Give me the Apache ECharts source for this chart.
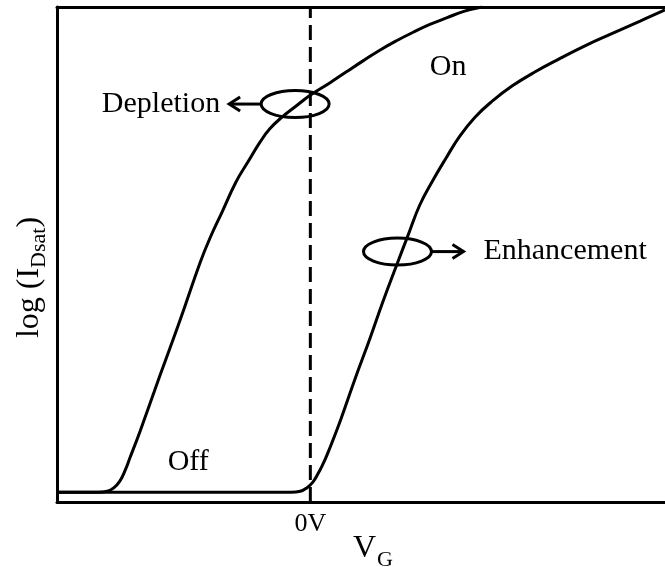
<!DOCTYPE html>
<html>
<head>
<meta charset="utf-8">
<script src="https://cdn.jsdelivr.net/npm/echarts@6/dist/echarts.min.js"></script>
<style>
  html, body { margin: 0; padding: 0; background: #fff; }
  #chart { width: 665px; height: 567px; }
</style>
</head>
<body>
<div id="chart"></div>
<script>
// Gate voltage (arbitrary units, 0V at the threshold marker) and log(I_Dsat)
const depletionVg = [-5, -4.19, -4.01, -3.88, -3.76, -3.66, -3.56, -3.36, -2.97, -2.57, -2.18, -1.98, -1.74, -1.47, -1.23, -0.99, -0.80, -0.56, -0.28, 0.01, 0.39, 0.72, 1.04, 1.37, 1.71, 2.03, 2.36, 2.70, 3.03, 3.39];
const depletionLogI = [0, 0, 0.02, 0.09, 0.23, 0.44, 0.71, 1.26, 2.40, 3.55, 4.72, 5.24, 5.78, 6.39, 6.81, 7.22, 7.49, 7.73, 7.96, 8.19, 8.44, 8.67, 8.89, 9.11, 9.31, 9.48, 9.64, 9.78, 9.91, 10.0];

const enhancementVg = [-5, -0.38, -0.20, -0.07, 0.05, 0.15, 0.23, 0.33, 0.59, 0.88, 1.18, 1.43, 1.71, 1.93, 2.16, 2.42, 2.68, 2.95, 3.25, 3.59, 3.98, 4.43, 4.93, 5.42, 5.95, 6.51, 7.0];
const enhancementLogI = [0, 0, 0.02, 0.09, 0.21, 0.38, 0.54, 0.77, 1.47, 2.33, 3.18, 3.92, 4.70, 5.30, 5.92, 6.43, 6.89, 7.34, 7.73, 8.06, 8.37, 8.66, 8.94, 9.20, 9.45, 9.71, 9.94];

// Callouts: ellipse centre (Vg, logI), arrow direction (-1 left, +1 right), text
const calloutNames = ['Depletion', 'Enhancement'];
const calloutVg = [-0.30, 1.72];
const calloutLogI = [8.0, 4.96];
const calloutDir = [-1, 1];

// Region labels
const regionNames = ['On', 'Off'];
const regionVg = [2.72, -2.41];
const regionLogI = [8.76, 0.62];

const xTickLabel = '0V';
const thresholdVg = 0;
const vgRange = [-5, 7];
const logIRange = [-0.2, 10];

const SERIF = '"Liberation Serif", "Times New Roman", serif';

const zip = (xs, ys) => xs.map((x, i) => [x, ys[i]]);

const chart = echarts.init(document.getElementById('chart'), null, { renderer: 'canvas' });

const curveStyle = { color: '#000', width: 3 };

const option = {
  backgroundColor: '#fff',
  animation: false,
  grid: {
    left: 57, right: 0, top: 7, bottom: 65,
    outerBoundsMode: 'none',
    containLabel: false,
    show: false
  },
  xAxis: [
    {
      type: 'value', min: vgRange[0], max: vgRange[1], interval: 1,
      axisLine: { show: true, onZero: false, lineStyle: { color: '#000', width: 3 } },
      axisTick: { show: false },
      splitLine: { show: false },
      axisLabel: {
        margin: 9, color: '#000', fontFamily: SERIF, fontSize: 26,
        formatter: v => (v === thresholdVg ? xTickLabel : '')
      },
      name: '{v|V}{s|G}',
      nameLocation: 'middle',
      nameGap: 31,
      nameMoveOverlap: false,
      nameTextStyle: {
        padding: [0, 0, 0, 24],
        rich: {
          v: { fontFamily: SERIF, fontSize: 32, color: '#000', verticalAlign: 'top', lineHeight: 32 },
          s: { fontFamily: SERIF, fontSize: 22, color: '#000', verticalAlign: 'top', padding: [16, 0, 0, 1], lineHeight: 22 }
        }
      }
    },
    {
      // top frame line
      type: 'value', position: 'top', min: vgRange[0], max: vgRange[1],
      axisLine: { show: true, onZero: false, lineStyle: { color: '#000', width: 3 } },
      axisTick: { show: false },
      axisLabel: { show: false },
      splitLine: { show: false }
    }
  ],
  yAxis: {
    type: 'value', min: logIRange[0], max: logIRange[1],
    axisLine: { show: true, onZero: false, lineStyle: { color: '#000', width: 3 } },
    axisTick: { show: false },
    splitLine: { show: false },
    axisLabel: { show: false },
    name: '{a|log (I}{s|Dsat}{a|)}',
    nameLocation: 'middle',
    nameGap: 11,
    nameRotate: 90,
    nameMoveOverlap: false,
    nameTextStyle: {
      padding: [0, 46, 0, 0],
      rich: {
        a: { fontFamily: SERIF, fontSize: 32, color: '#000', verticalAlign: 'top', lineHeight: 32 },
        s: { fontFamily: SERIF, fontSize: 22, color: '#000', verticalAlign: 'top', padding: [14, 0, 0, 0], lineHeight: 22 }
      }
    }
  },
  series: [
    {
      name: '0V',
      type: 'line',
      data: [[thresholdVg, logIRange[0]], [thresholdVg, logIRange[1]]],
      symbol: 'none',
      lineStyle: { color: '#000', width: 3, type: [15, 7] },
      z: 2
    },
    {
      name: 'Depletion',
      type: 'line',
      data: zip(depletionVg, depletionLogI),
      smooth: 0.45,
      symbol: 'none',
      lineStyle: curveStyle,
      z: 3
    },
    {
      name: 'Enhancement',
      type: 'line',
      data: zip(enhancementVg, enhancementLogI),
      smooth: 0.45,
      symbol: 'none',
      lineStyle: curveStyle,
      z: 3
    },
    {
      name: 'Regions',
      type: 'scatter',
      symbolSize: 0,
      itemStyle: { opacity: 1, color: '#000' },
      data: regionNames.map((n, i) => ({ value: [regionVg[i], regionLogI[i]], name: n })),
      label: {
        show: true, position: 'inside', formatter: p => p.name,
        color: '#000', fontFamily: SERIF, fontSize: 30
      },
      z: 4
    },
    {
      name: 'Callouts',
      type: 'custom',
      data: calloutNames.map((n, i) => [calloutVg[i], calloutLogI[i], calloutDir[i]]),
      renderItem: function (params, api) {
        const i = params.dataIndex;
        const c = api.coord([api.value(0), api.value(1)]);
        const dir = api.value(2);
        const rx = 34, ry = 13.5;
        const shaft = 32;
        const start = c[0] + dir * rx;
        const tip = start + dir * shaft;
        const gap = dir < 0 ? 9 : 20;
        const stroke = { stroke: '#000', lineWidth: 3, fill: null };
        return {
          type: 'group',
          children: [
            { type: 'ellipse', shape: { cx: c[0], cy: c[1], rx: rx, ry: ry }, style: stroke },
            { type: 'line', shape: { x1: start, y1: c[1], x2: tip - dir * 2, y2: c[1] }, style: stroke },
            {
              type: 'polyline',
              shape: { points: [[tip - dir * 11, c[1] - 7], [tip, c[1]], [tip - dir * 11, c[1] + 7]] },
              style: { stroke: '#000', lineWidth: 3, fill: null, lineJoin: 'miter' }
            },
            {
              type: 'text',
              style: {
                x: tip + dir * gap, y: c[1],
                text: calloutNames[i],
                fill: '#000',
                font: '30px ' + SERIF,
                align: dir < 0 ? 'right' : 'left',
                verticalAlign: 'middle'
              }
            }
          ]
        };
      },
      z: 5
    }
  ]
};

chart.setOption(option);
</script>
</body>
</html>
